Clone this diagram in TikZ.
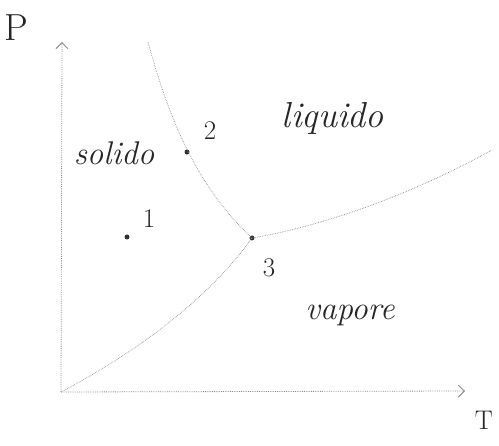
\documentclass[tikz,border=0pt]{standalone}
\usetikzlibrary{arrows.meta}
\begin{document}
\begin{tikzpicture}[x=1pt,y=-1pt,
  curve/.style={draw=gray!90, line width=0.7pt, densely dotted},
  axis/.style={draw=gray!90, line width=0.8pt, densely dotted, -{Straight Barb[length=6pt,width=12pt,line width=1pt]}},
  pt/.style={circle, fill=black!80, inner sep=0pt, minimum size=5pt},
  lbl/.style={font=\LARGE\itshape, text=black!85, scale=1.9},
  num/.style={font=\huge, text=black!85, scale=1.3}]
\useasboundingbox (0,0) rectangle (499,446);
\coordinate (O) at (61,392);
\coordinate (Ytop) at (62,42);
\coordinate (Xend) at (465,391);
\coordinate (Mtop) at (148,42);
\coordinate (Vend) at (492,150);
\node[pt] (tp) at (252,238) {};
\node[pt] (p1) at (127,237) {};
\node[pt] (p2) at (187,152) {};
\draw[axis] (O) -- (Ytop);
\draw[axis] (O) -- (Xend);
\draw[curve] (O) .. controls (150,345) and (215,290) .. (tp.center);
\draw[curve] (Mtop) .. controls (168,115) and (195,185) .. (tp.center);
\draw[curve] (tp.center) .. controls (330,225) and (420,190) .. (Vend);
\node[num, scale=1.4] (lP) at (16,28) {P};
\node[num] (lT) at (484,420) {T};
\node[num] (l1) at (149,219) {1};
\node[num] (l2) at (210,131) {2};
\node[num] (l3) at (269,268) {3};
\node[lbl] (sol) at (114,153) {solido};
\node[lbl, scale=1.1] (liq) at (333,118) {liquido};
\node[lbl] (vap) at (350,315) {vapore};
\end{tikzpicture}
\end{document}
